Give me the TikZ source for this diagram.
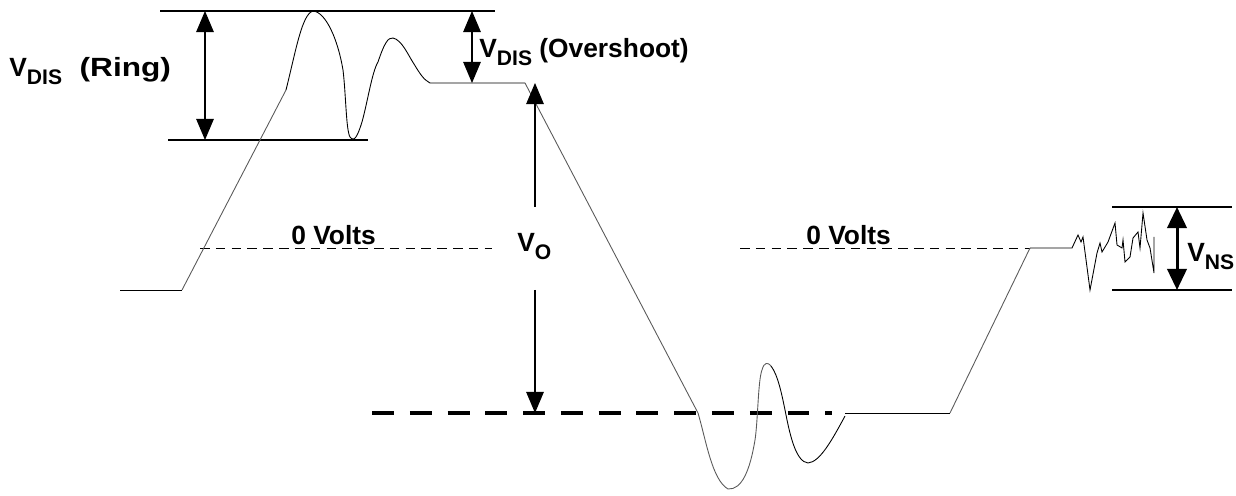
\documentclass[tikz,border=0pt]{standalone}
\usepackage{fontspec}
\setmainfont{Liberation Sans}
\usetikzlibrary{arrows.meta}
\newcommand{\lsub}[1]{\raisebox{-4pt}{\fontsize{12}{13}\selectfont #1}}
\tikzset{
  sig/.style    = {line width=0.5pt, black},
  slope/.style  = {line width=0.5pt, black!65},
  lvl/.style    = {line width=0.8pt},
  nslvl/.style  = {line width=1.7pt},
  zero/.style   = {line width=0.5pt, dash pattern=on 5.5pt off 3.5pt},
  vodash/.style = {line width=2pt, dash pattern=on 12.5pt off 9pt},
  dimarr/.style = {line width=0.6pt, {Triangle[width=10pt,length=12pt]}-{Triangle[width=10pt,length=12pt]}},
  onearr/.style = {line width=0.6pt, -{Triangle[width=10pt,length=12pt]}},
  nsarr/.style  = {line width=1.7pt, {Triangle[width=11pt,length=12pt]}-{Triangle[width=11pt,length=12pt]}},
  lbl/.style    = {font=\bfseries\fontsize{15}{17}\selectfont, inner sep=0pt, anchor=base west},
}

\begin{document}
\begin{tikzpicture}[x=0.02cm, y=-0.02cm]
  \useasboundingbox (0,0) rectangle (1236,496);

  % reference levels
  \coordinate (topL) at (160,11);   \coordinate (topR) at (495,11);
  \coordinate (ringL) at (168,140); \coordinate (ringR) at (368,140);
  \coordinate (nsTL) at (1112,207); \coordinate (nsTR) at (1232,207);
  \coordinate (nsBL) at (1112,290); \coordinate (nsBR) at (1232,290);
  \draw[lvl] (topL) -- (topR);
  \draw[lvl] (ringL) -- (ringR);
  \draw[nslvl] (nsTL) -- (nsTR);
  \draw[nslvl] (nsBL) -- (nsBR);

  % zero lines
  \coordinate (z1a) at (200,248); \coordinate (z1b) at (492,248);
  \coordinate (z2a) at (740,248); \coordinate (z2b) at (1030,248);
  \draw[zero] (z1a) -- (z1b);
  \draw[zero] (z2a) -- (z2b);
  \node[lbl] (zv1) at (291,245) {0 Volts};
  \node[lbl] (zv2) at (806,245) {0 Volts};

  % low output level
  \coordinate (lowL) at (372,413); \coordinate (lowR) at (832,413);
  \draw[vodash] (lowL) -- (lowR);

  % signal
  \draw[sig] (120,290) -- (182,290);
  \draw[slope] (182,290) -- (286,90);
  \draw[sig] (286,90) .. controls (296,50) and (302,14) .. (313,11)
    .. controls (326,12) and (338,40) .. (343,70)
    .. controls (346,95) and (346,130) .. (350,137)
    .. controls (354,142) and (357,138) .. (362,122)
    .. controls (368,100) and (372,72) .. (378,62)
    .. controls (384,44) and (388,37) .. (393,38)
    .. controls (402,40) and (408,55) .. (414,64)
    .. controls (420,74) and (424,80) .. (430,83)
    -- (525,83);
  \draw[slope] (525,83) -- (698,413)
    .. controls (706,440) and (712,480) .. (728,489)
    .. controls (742,490) and (750,470) .. (755,440)
    .. controls (758,420) and (758,380) .. (762,370)
    .. controls (764,362) and (768,362) .. (771,366);
  \draw[sig] (771,366) .. controls (778,375) and (782,395) .. (786,415)
    .. controls (790,435) and (796,462) .. (808,463)
    .. controls (820,462) and (832,440) .. (845,416);
  \draw[sig] (845,413) -- (950,413);
  \draw[slope] (950,413) -- (1030,248);
  \draw[sig] (1030,248) -- (1072,248)
    -- (1078,235) -- (1081,242) -- (1083,237) -- (1090,290) -- (1097,253)
    -- (1100,243) -- (1102,252) -- (1108,242) -- (1115,223) -- (1117,245)
    -- (1122,248) -- (1123,240) -- (1125,262) -- (1130,257) -- (1133,238)
    -- (1138,232) -- (1140,248) -- (1143,213) -- (1147,240) -- (1150,248)
    -- (1154,273) -- (1154,237);

  % ring
  \coordinate (rgT) at (205,11); \coordinate (rgB) at (205,140);
  \draw[dimarr] (rgT) -- (rgB);
  \node[lbl] (ring) at (9,77) {V\lsub{DIS}\hspace{10pt}\scalebox{1.2}[1]{(Ring)}};

  % overshoot
  \coordinate (ovT) at (472,11); \coordinate (ovB) at (472,83);
  \draw[dimarr] (ovT) -- (ovB);
  \node[lbl] (over) at (479,58) {V\lsub{DIS} (Overshoot)};

  % output swing
  \node[lbl] (vo) at (517,252) {V\lsub{O}};
  \coordinate (voT) at (535,83); \coordinate (voTs) at (535,207);
  \coordinate (voB) at (535,413); \coordinate (voBs) at (535,290);
  \draw[onearr] (voTs) -- (voT);
  \draw[onearr] (voBs) -- (voB);

  % noise
  \coordinate (nsT) at (1177,207); \coordinate (nsB) at (1177,290);
  \draw[nsarr] (nsT) -- (nsB);
  \node[lbl] (vns) at (1187,262) {V\lsub{NS}};
\end{tikzpicture}
\end{document}
